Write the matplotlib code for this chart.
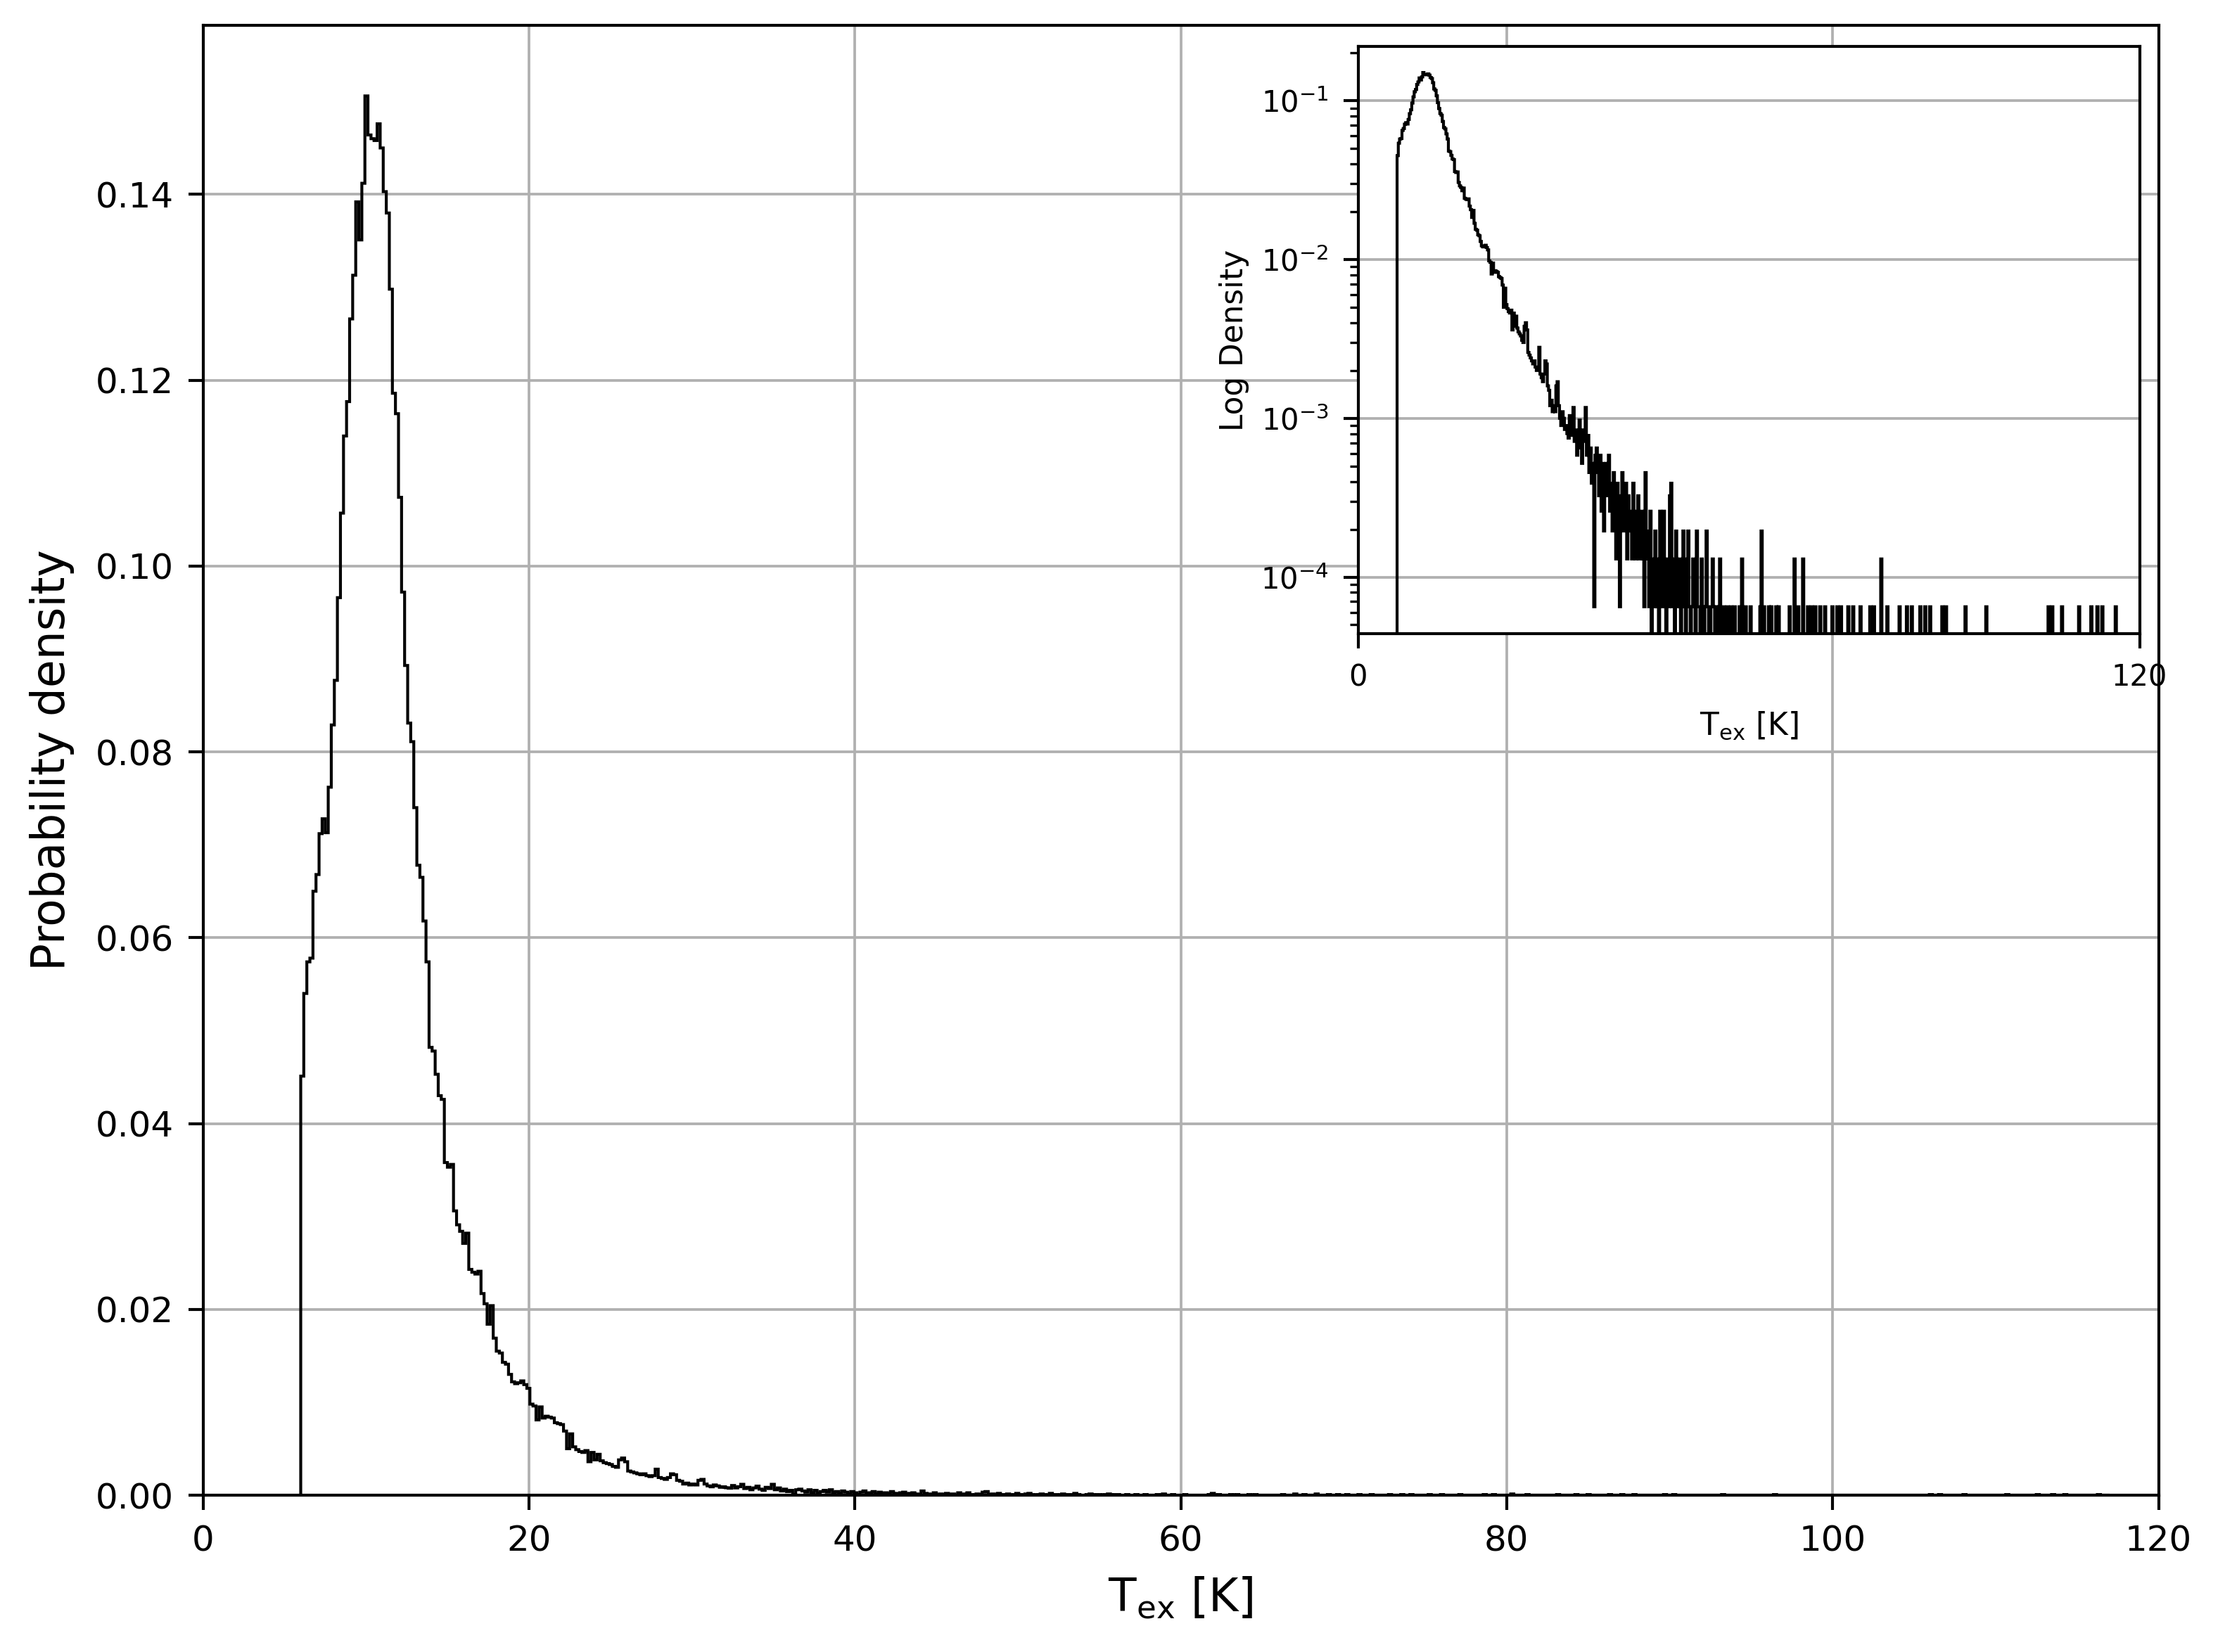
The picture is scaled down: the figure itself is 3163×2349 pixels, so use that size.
import numpy as np
import matplotlib
matplotlib.use("Agg")
import matplotlib.pyplot as plt

# histogram layout (density=True, step outline)
T0 = 6.0          # left edge of first bin [K]
BW = 0.1875       # bin width [K]
N_BINS = 592
UNIT = 6.5e-5     # density of a single sample in one bin

# densities of the first 141 bins (6.0 K .. 32.4 K)
density_core = [
    0.0451, 0.0540, 0.0574, 0.0578, 0.0650, 0.0668, 0.0712, 0.0728, 0.0713, 0.0762,
    0.0829, 0.0877, 0.0966, 0.1057, 0.1140, 0.1177, 0.1266, 0.1313, 0.1392, 0.1351,
    0.1412, 0.1506, 0.1464, 0.1460, 0.1458, 0.1476, 0.1450, 0.1403, 0.1380, 0.1298,
    0.1186, 0.1164, 0.1074, 0.0972, 0.0893, 0.0831, 0.0811, 0.0740, 0.0678, 0.0665,
    0.0618, 0.0574, 0.0482, 0.0478, 0.0453, 0.0430, 0.0426, 0.0358, 0.0353, 0.0356,
    0.0306, 0.0291, 0.0284, 0.0271, 0.0282, 0.0243, 0.0240, 0.0238, 0.0241, 0.0217,
    0.0206, 0.0184, 0.0204, 0.0169, 0.0155, 0.0153, 0.0143, 0.0141, 0.0130, 0.0122,
    0.0120, 0.0121, 0.0123, 0.0119, 0.0115, 0.0098, 0.0096, 0.0081, 0.0095, 0.0083,
    0.0085, 0.0084, 0.0083, 0.0078, 0.0077, 0.0076, 0.0069, 0.0050, 0.0066, 0.0052,
    0.0049, 0.0047, 0.0046, 0.0048, 0.0036, 0.0046, 0.0038, 0.0044, 0.0037, 0.0035,
    0.0034, 0.0033, 0.0031, 0.0030, 0.0038, 0.0040, 0.0036, 0.0026, 0.0025, 0.0024,
    0.0023, 0.0022, 0.0023, 0.0021, 0.0020, 0.0021, 0.0028, 0.0019, 0.0018, 0.0017,
    0.0019, 0.0023, 0.0022, 0.0016, 0.0015, 0.0012, 0.0013, 0.0011, 0.0012, 0.0011,
    0.0016, 0.0017, 0.0012, 0.0010, 0.0009, 0.0011, 0.0010, 0.00085, 0.0009, 0.0008,
    0.00075,
]

# sample counts per bin from 32.44 K to 56.06 K
counts_mid = [
    16, 12, 14, 18, 11, 13, 9, 12, 15, 10, 8, 13, 11, 18,
    9, 12, 7, 10, 6, 8, 1, 9,
    10, 7, 5, 9, 4, 8, 3, 6,
    8, 5, 9, 4, 6, 3, 7, 5, 2, 6, 4,
    1, 5, 7, 3, 4, 6, 2, 5, 3, 4, 2, 6, 3, 2, 4, 5, 2, 3,
    4, 2, 1, 7, 3, 2, 1, 4, 0, 2, 1, 3, 1, 2, 0, 4,
    1, 2, 4, 1, 0, 2, 1, 5, 6, 1, 2, 0, 3, 1, 1, 2, 0, 1, 3, 1, 0, 2,
    3, 1, 0, 1, 2, 1, 0, 3, 1, 1, 0, 2, 1, 0, 1, 3, 1, 0, 0, 1, 2, 1, 0, 1, 0, 1, 2, 0, 1, 1,
]

# isolated samples in the far tail
tail_T = [56.7, 57.2, 57.9, 58.5, 59.0, 59.6, 60.2, 61.7, 62.0, 62.4, 63.0, 63.5,
          64.2, 64.6, 66.2, 67.0, 67.6, 68.3, 69.0, 69.6, 70.2, 71.0, 71.7, 72.9,
          73.6, 74.1, 75.2, 76.0, 77.2, 78.6, 79.3, 80.4, 81.2, 83.1, 84.3, 85.0,
          86.3, 87.0, 87.9, 89.7, 90.3, 93.3, 96.5, 106.0, 106.6, 108.0, 110.7,
          112.5, 113.6, 114.2, 116.4]
tail_n = [1, 1, 1, 1, 2, 1, 1, 1, 3, 1, 1, 1,
          1, 1, 1, 2, 1, 2, 1, 1, 1, 1, 1, 1,
          1, 1, 1, 1, 1, 1, 1, 2, 1, 1, 1, 1,
          1, 1, 1, 1, 1, 1, 1, 1, 1, 1, 1,
          1, 1, 1, 1]

edges = T0 + BW * np.arange(N_BINS + 1)
density = np.zeros(N_BINS)
density[:len(density_core)] = density_core
i0 = len(density_core)
density[i0:i0 + len(counts_mid)] = np.array(counts_mid) * UNIT
for t, n in zip(tail_T, tail_n):
    density[int((t - T0) // BW)] += n * UNIT

plt.rcParams.update({
    "font.family": "DejaVu Sans",
    "axes.linewidth": 1.0,
    "grid.linewidth": 0.9,
    "grid.color": "#b0b0b0",
})

W, H = 3163, 2349
fig = plt.figure(figsize=(W / 300, H / 300), dpi=300)

ax = fig.add_axes([288.5 / W, 1 - 2126 / H, 2780 / W, (2126 - 36) / H])
ax.stairs(density, edges, color="black", linewidth=1.0)
ax.set_xlim(0, 120)
ax.set_ylim(0, 0.1582)
ax.set_yticks(np.arange(0, 0.141, 0.02))
ax.yaxis.set_major_formatter(matplotlib.ticker.FormatStrFormatter("%.2f"))
ax.tick_params(labelsize=12, length=5, width=1.0, pad=5)
ax.set_xlabel(r"T$_{\rm ex}$ [K]", fontsize=15.5, labelpad=6)
ax.set_ylabel("Probability density", fontsize=15.5, labelpad=7)
ax.grid(True)
ax.set_axisbelow(True)

# log-scale inset
ins = fig.add_axes([1930.5 / W, 1 - 901 / H, (3041.6 - 1930.5) / W, (901 - 66) / H])
ins.set_facecolor("white")
ins.stairs(density, edges, color="black", linewidth=1.0)
ins.set_yscale("log")
ins.set_xlim(0, 120)
ins.set_ylim(4.40e-5, 0.2198)
ins.set_xticks([0, 120])
ins.tick_params(which="major", labelsize=10, length=5, width=1.0, pad=5)
ins.tick_params(which="minor", length=3, width=0.8)
ins.set_xlabel(r"T$_{\rm ex}$ [K]", fontsize=10.5, labelpad=6)
ins.set_ylabel("Log Density", fontsize=10.5, labelpad=4)
ins.grid(True)
ins.set_axisbelow(True)

fig.savefig("out.png", dpi=300)
